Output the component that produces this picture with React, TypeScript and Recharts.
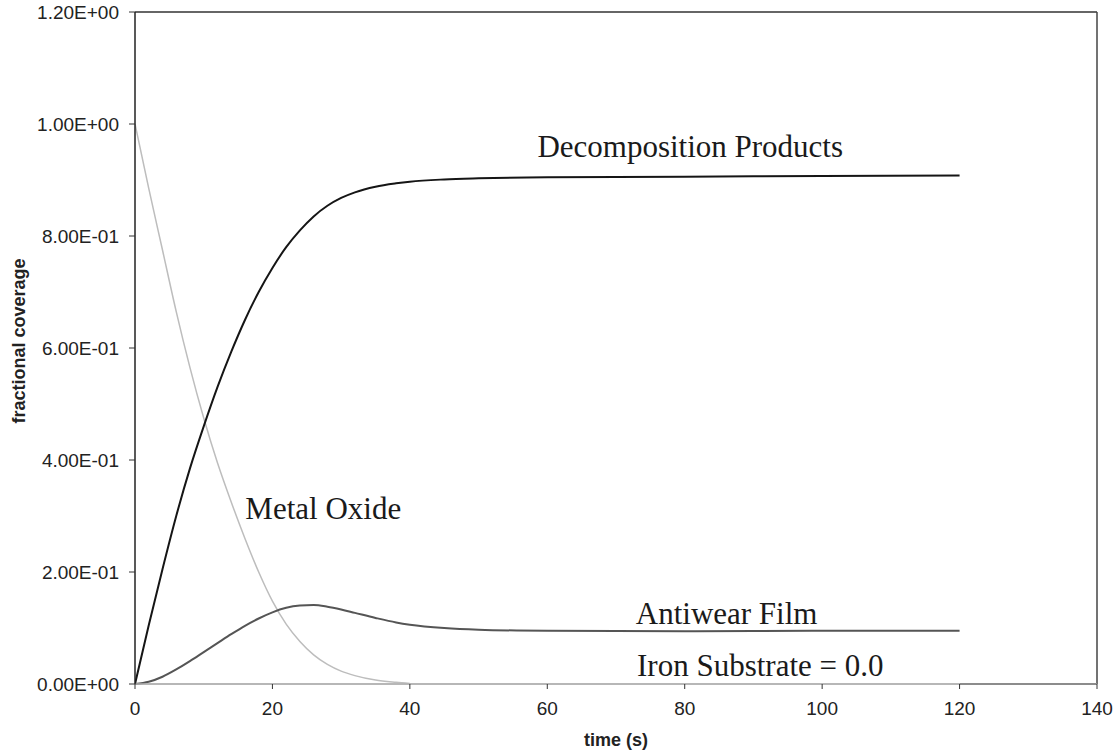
import React from 'react';
import { LineChart, Line, XAxis, YAxis, ReferenceLine, ReferenceDot } from 'recharts';

// time (s)
const times = [0, 2, 4, 6, 8, 10, 12, 14, 16, 18, 20, 22, 24, 26, 28, 30, 32, 35, 38, 40, 45, 50, 60, 80, 100, 120];

const decomposition = [
  0, 0.105, 0.205, 0.3, 0.385, 0.46, 0.53, 0.593, 0.65, 0.7, 0.743, 0.78, 0.81, 0.835, 0.854, 0.868, 0.878,
  0.888, 0.894, 0.897, 0.901, 0.903, 0.905, 0.906, 0.907, 0.908,
];

const antiwear = [
  0, 0.004, 0.013, 0.026, 0.041, 0.057, 0.073, 0.089, 0.104, 0.117, 0.128, 0.136, 0.14, 0.141, 0.138, 0.133, 0.127,
  0.118, 0.11, 0.106, 0.1, 0.097, 0.095, 0.094, 0.095, 0.095,
];

// metal oxide is only given up to t = 40
const metalOxide = [
  1.0, 0.885, 0.775, 0.665, 0.565, 0.475, 0.395, 0.325, 0.26, 0.2, 0.148, 0.107, 0.076, 0.052, 0.035, 0.023, 0.015,
  0.007, 0.003, 0.001,
];

const ironTimes = [0, 120];
const ironValues = [0, 0];

const xTicks = [0, 20, 40, 60, 80, 100, 120, 140];
const yTicks = [0, 0.2, 0.4, 0.6, 0.8, 1.0, 1.2];

// text labels placed on the plot (time, coverage)
const notes = [
  { text: 'Decomposition Products', t: 80.8, v: 0.961 },
  { text: 'Metal Oxide', t: 27.4, v: 0.315 },
  { text: 'Antiwear Film', t: 86.1, v: 0.127 },
  { text: 'Iron Substrate = 0.0', t: 91, v: 0.034 },
];

const decompData = times.map((t, i) => ({ t, v: decomposition[i] }));
const antiwearData = times.map((t, i) => ({ t, v: antiwear[i] }));
const oxideData = metalOxide.map((v, i) => ({ t: times[i], v }));
const ironData = ironTimes.map((t, i) => ({ t, v: ironValues[i] }));

const SANS = '"Liberation Sans", Arial, sans-serif';
const SERIF = '"Liberation Serif", "Times New Roman", serif';

// 1.2 -> "1.20E+00", 0.4 -> "4.00E-01"
const sci = (v: number) => {
  if (v === 0) return '0.00E+00';
  const e = Math.floor(Math.log10(v) + 1e-9);
  const m = v / Math.pow(10, e);
  const sign = e < 0 ? '-' : '+';
  return `${m.toFixed(2)}E${sign}${String(Math.abs(e)).padStart(2, '0')}`;
};

const tickStyle = { fontFamily: SANS, fontSize: 19, fill: '#222' };

export default function App() {
  return (
    <div style={{ position: 'absolute', left: 0, top: 0, width: 1120, height: 755, background: '#fff' }}>
      <LineChart width={1120} height={755} margin={{ top: 12, right: 23, bottom: 21, left: 15 }}>
        <XAxis
          dataKey="t"
          type="number"
          domain={[0, 140]}
          ticks={xTicks}
          height={50}
          tickSize={5}
          tickMargin={13}
          tick={tickStyle}
          axisLine={{ stroke: '#b0b0b0', strokeWidth: 1.5 }}
          tickLine={{ stroke: '#333' }}
          allowDataOverflow
          label={{
            content: () => (
              <text x={616} y={740} textAnchor="middle" dominantBaseline="central"
                style={{ fontFamily: SANS, fontSize: 18, fontWeight: 'bold', fill: '#222' }}>
                time (s)
              </text>
            ),
          }}
        />
        <YAxis
          dataKey="v"
          type="number"
          domain={[0, 1.2]}
          ticks={yTicks}
          width={120}
          tickSize={6}
          tickMargin={10}
          tick={tickStyle}
          tickFormatter={sci}
          axisLine={{ stroke: '#222', strokeWidth: 1.5 }}
          tickLine={{ stroke: '#333' }}
          label={{
            content: () => (
              <text x={19} y={341} textAnchor="middle" dominantBaseline="central" transform="rotate(-90, 19, 341)"
                style={{ fontFamily: SANS, fontSize: 18, fontWeight: 'bold', fill: '#222' }}>
                fractional coverage
              </text>
            ),
          }}
        />
        {/* frame: top, right and the dark stretch of the bottom edge */}
        <ReferenceLine y={1.2} stroke="#333" strokeWidth={1.5} />
        <ReferenceLine x={140} stroke="#444" strokeWidth={1.5} />
        <ReferenceLine segment={[{ x: 120, y: 0 }, { x: 140, y: 0 }]} stroke="#222" strokeWidth={2} />

        <Line data={ironData} dataKey="v" type="linear" stroke="#b8b8b8" strokeWidth={1.5} dot={false} isAnimationActive={false} />
        <Line data={oxideData} dataKey="v" type="monotone" stroke="#bdbdbd" strokeWidth={1.5} dot={false} isAnimationActive={false} />
        <Line data={antiwearData} dataKey="v" type="monotone" stroke="#555" strokeWidth={2} dot={false} isAnimationActive={false} />
        <Line data={decompData} dataKey="v" type="monotone" stroke="#151515" strokeWidth={2} dot={false} isAnimationActive={false} />

        {notes.map((n) => (
          <ReferenceDot
            key={n.text}
            x={n.t}
            y={n.v}
            r={1}
            fill="none"
            stroke="none"
            label={{ value: n.text, position: 'center', fontFamily: SERIF, fontSize: 31, fill: '#1a1a1a' }}
          />
        ))}
      </LineChart>
    </div>
  );
}
